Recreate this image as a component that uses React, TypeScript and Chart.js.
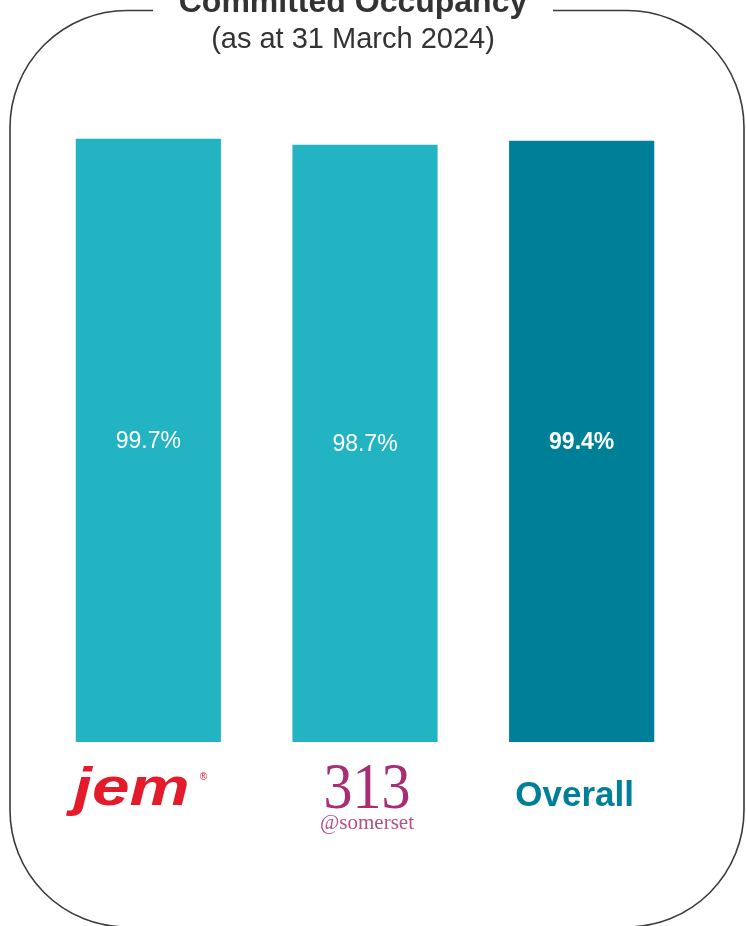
import React, { useEffect, useRef } from "react";
import { Chart, registerables } from "chart.js";

Chart.register(...registerables);

const categories = ["jem", "313@somerset", "Overall"];
const occupancy = [99.7, 98.7, 99.4];
const valueLabels = ["99.7%", "98.7%", "99.4%"];
const barColors = ["#22b4c3", "#22b4c3", "#007f99"];
const titleText = "Committed Occupancy";
const subtitleText = "(as at 31 March 2024)";

const decorPlugin = {
  id: "decor",
  afterDraw(chart: any) {
    const ctx = chart.ctx as CanvasRenderingContext2D;
    const xs = chart.scales.x;
    ctx.save();

    // rounded frame with a gap for the title
    const L = 10, T = 10.5, R = 744, B = 927, r = 117;
    ctx.strokeStyle = "#3a3a3a";
    ctx.lineWidth = 1.6;
    ctx.beginPath();
    ctx.moveTo(153, T);
    ctx.lineTo(L + r, T);
    ctx.arcTo(L, T, L, T + r, r);
    ctx.lineTo(L, B - r);
    ctx.arcTo(L, B, L + r, B, r);
    ctx.lineTo(R - r, B);
    ctx.arcTo(R, B, R, B - r, r);
    ctx.lineTo(R, T + r);
    ctx.arcTo(R, T, R - r, T, r);
    ctx.lineTo(553, T);
    ctx.stroke();

    // title and subtitle
    ctx.fillStyle = "#333333";
    ctx.textAlign = "center";
    ctx.textBaseline = "alphabetic";
    ctx.font = "bold 32px 'Liberation Sans', Arial, sans-serif";
    ctx.fillText(titleText, 353, 12);
    ctx.font = "29px 'Liberation Sans', Arial, sans-serif";
    ctx.fillText(subtitleText, 353, 48);

    // value labels inside bars
    const meta = chart.getDatasetMeta(0);
    meta.data.forEach((bar: any, i: number) => {
      ctx.fillStyle = "#ffffff";
      ctx.font = (i === 2 ? "bold " : "") + "23px 'Liberation Sans', Arial, sans-serif";
      ctx.textBaseline = "middle";
      ctx.textAlign = "center";
      ctx.fillText(valueLabels[i], bar.x, (bar.y + bar.base) / 2 + 1);
    });

    // category "logos"
    ctx.textBaseline = "alphabetic";
    // jem
    let cx = xs.getPixelForValue(0);
    ctx.save();
    ctx.translate(cx - 17, 805);
    ctx.scale(1.25, 1);
    ctx.fillStyle = "#e31b2b";
    ctx.font = "italic bold 54px 'Liberation Sans', Arial, sans-serif";
    ctx.textAlign = "center";
    ctx.fillText(categories[0], 0, 0);
    ctx.restore();
    ctx.fillStyle = "#e31b2b";
    ctx.font = "10px 'Liberation Sans', Arial, sans-serif";
    ctx.textAlign = "center";
    ctx.fillText("®", cx + 55, 780);

    // 313 @somerset
    cx = xs.getPixelForValue(1);
    ctx.save();
    ctx.translate(cx + 2, 808);
    ctx.scale(0.88, 1);
    ctx.fillStyle = "#a82d72";
    ctx.font = "66px 'Liberation Serif', 'Times New Roman', serif";
    ctx.textAlign = "center";
    ctx.fillText("313", 0, 0);
    ctx.restore();
    ctx.fillStyle = "#b84d8a";
    ctx.font = "21px 'Liberation Serif', 'Times New Roman', serif";
    ctx.textAlign = "center";
    ctx.fillText("@somerset", cx + 2, 829);

    // Overall
    cx = xs.getPixelForValue(2);
    ctx.fillStyle = "#007f99";
    ctx.font = "bold 35px 'Liberation Sans', Arial, sans-serif";
    ctx.fillText(categories[2], cx - 7, 806);

    ctx.restore();
  },
};

export default function App() {
  const canvasRef = useRef<HTMLCanvasElement | null>(null);

  useEffect(() => {
    const canvas = canvasRef.current;
    if (!canvas) return;
    const chart = new Chart(canvas, {
      type: "bar",
      data: {
        labels: categories,
        datasets: [
          {
            data: occupancy,
            backgroundColor: barColors,
            borderWidth: 0,
            barPercentage: 0.67,
            categoryPercentage: 1,
          },
        ],
      },
      options: {
        animation: false,
        responsive: false,
        maintainAspectRatio: false,
        layout: { padding: { left: 40, right: 56, top: 137, bottom: 184 } },
        plugins: {
          legend: { display: false },
          tooltip: { enabled: false },
          title: { display: false },
        },
        scales: {
          x: { display: false },
          y: { display: false, min: 0, max: 100 },
        },
      },
      plugins: [decorPlugin],
    });
    return () => chart.destroy();
  }, []);

  return (
    <div style={{ position: "fixed", left: 0, top: 0, width: 746, height: 926, background: "#ffffff" }}>
      <canvas ref={canvasRef} width={746} height={926} style={{ width: 746, height: 926, display: "block" }} />
    </div>
  );
}
